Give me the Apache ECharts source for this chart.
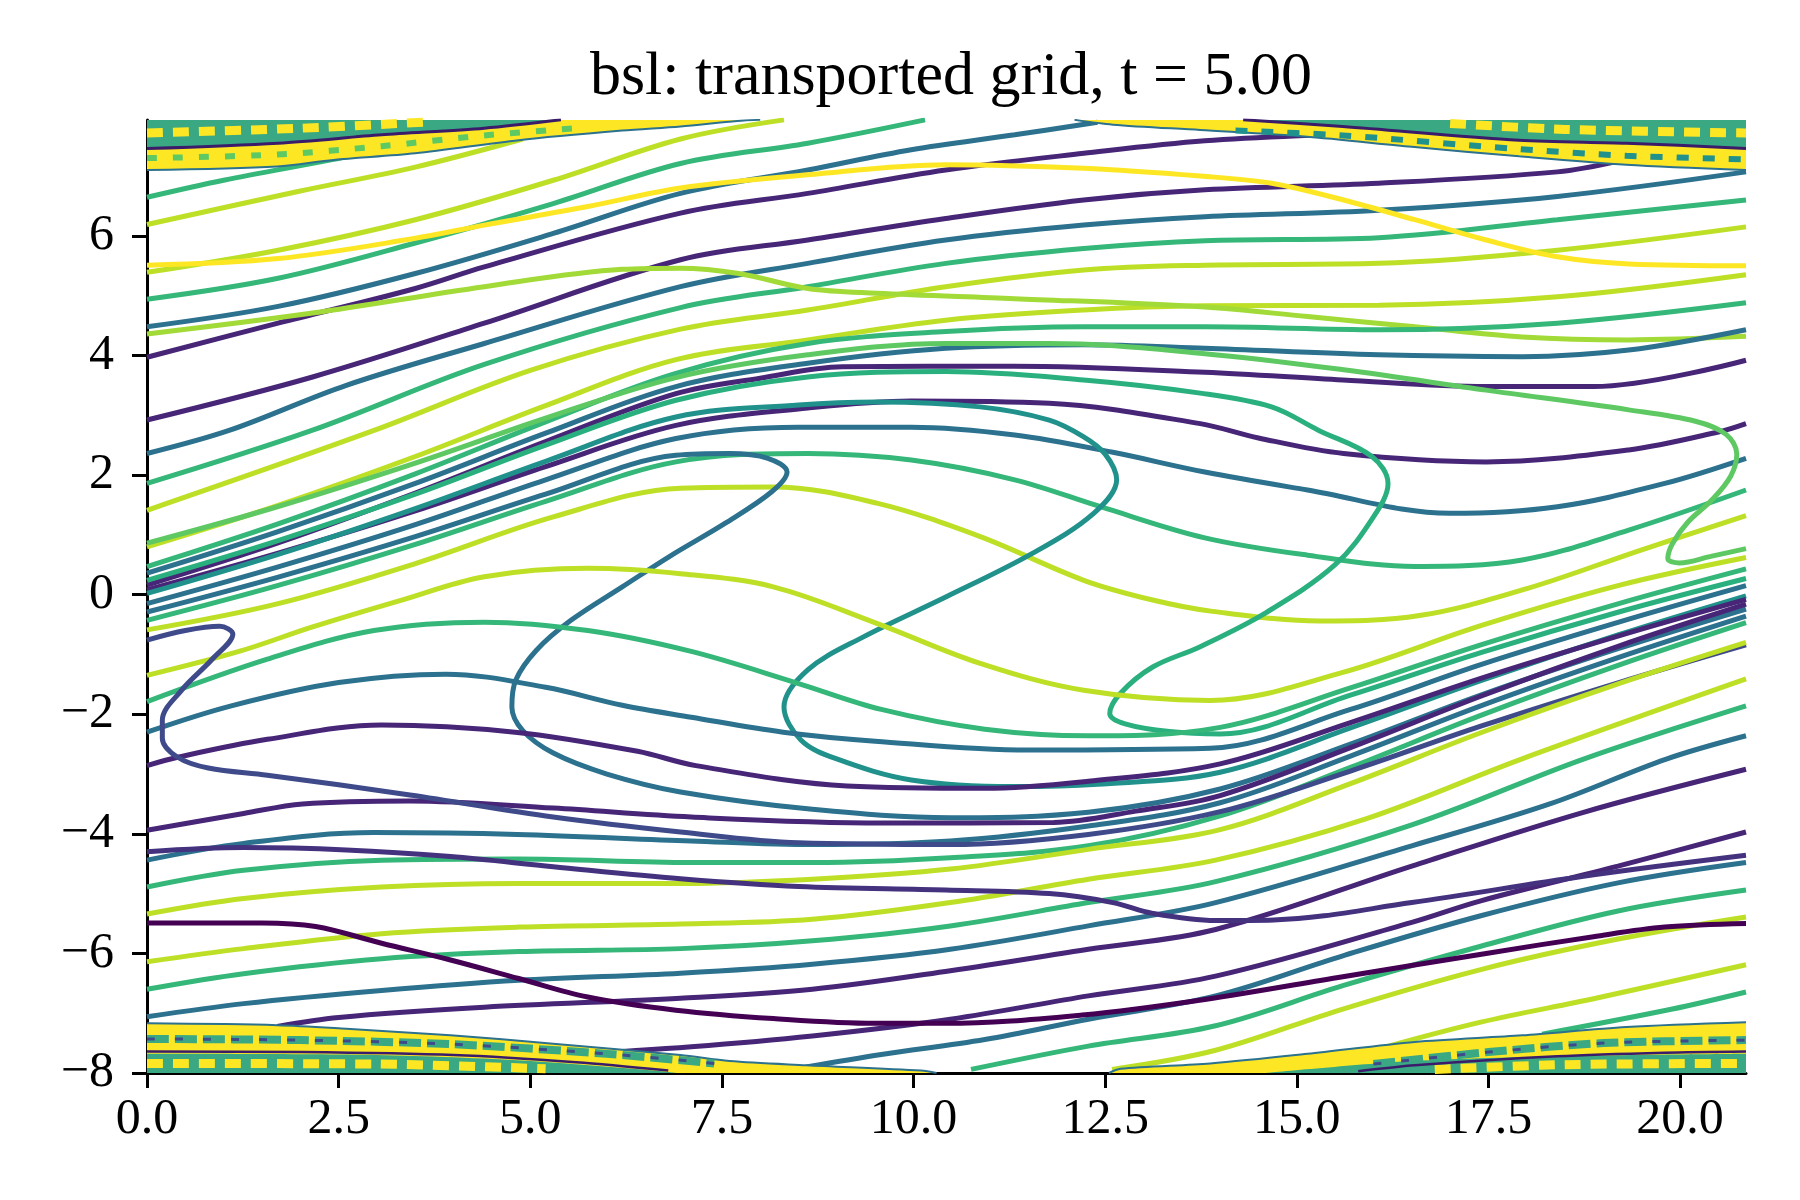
<!DOCTYPE html>
<html>
<head>
<meta charset="utf-8">
<script src="https://cdn.jsdelivr.net/npm/echarts@6/dist/echarts.min.js"></script>
<style>
  html, body { margin: 0; padding: 0; background: #fff; }
  #chart { width: 1800px; height: 1200px; }
</style>
</head>
<body>
<div id="chart"></div>
<script>
// axis ticks
var xTicks = [0, 2.5, 5, 7.5, 10, 12.5, 15, 17.5, 20];
var yTicks = [-8, -6, -4, -2, 0, 2, 4, 6];

// ---- upper curves (x, v) ----
var greenTopA = [[0,6.645],[1,6.93],[2.4,7.27],[2.8,7.38]];
var ygTopA = [[0,6.19],[2,6.75],[3.5,7.15],[4.9,7.62]];
var yellowTop = [[0,5.51],[1.71,5.62],[3.5,5.96],[4.4,6.18],[5.75,6.49],[6.96,6.8],[8.62,7.02],[10.42,7.19],[12.22,7.13],[13.74,7.0],[14.67,6.88],[15.61,6.6],[16.54,6.27],[17.47,5.93],[18.4,5.65],[19.33,5.53],[20.86,5.5]];
var ygTopB = [[0,5.39],[1.71,5.76],[3.5,6.27],[5.3,6.93],[6.96,7.62],[8.31,7.94]];
var greenTopB = [[0,4.94],[1.71,5.29],[3.5,5.88],[5.3,6.54],[6.96,7.21],[8.62,7.55],[10.15,7.94]];
var blueTopB = [[0,4.48],[1.71,4.82],[3.5,5.37],[5.3,6.04],[6.96,6.71],[8.62,7.1],[9.97,7.44],[11.32,7.69],[12.4,7.9]];
var limeTop = [[0,4.36],[2.16,4.71],[4.4,5.15],[6.2,5.44],[6.96,5.46],[7.72,5.37],[8.62,5.12],[9.52,5.04],[11.32,4.95],[13.8,4.81],[15.14,4.65],[16.54,4.48],[17.94,4.31],[19.33,4.26],[20.86,4.32]];
var purpleTopA = [[0,3.97],[1.71,4.54],[3.5,5.12],[4.4,5.48],[6.96,6.38],[8.62,6.71],[10.42,7.1],[12.22,7.38],[13.8,7.59],[15.5,7.7],[16.5,7.75]];
var purpleTopB = [[0,2.92],[2.16,3.64],[4.4,4.54],[6.96,5.6],[8.62,5.93],[10.42,6.29],[12.22,6.6],[13.8,6.77],[16.07,6.88],[18.4,7.07],[19.2,7.25]];
var blueTopC = [[0,2.36],[1.08,2.75],[2.6,3.5],[4.4,4.2],[6.96,5.15],[8.62,5.54],[10.42,5.93],[12.22,6.18],[13.8,6.32],[16.07,6.43],[18.4,6.66],[20.86,7.07]];
var greenTopC = [[0,1.86],[2.16,2.75],[4.4,3.85],[6.96,4.8],[8.62,5.15],[10.42,5.54],[12.22,5.79],[13.8,5.92],[16.07,5.97],[18.4,6.27],[20.86,6.6]];
var ygTopC = [[0,1.41],[2.97,2.75],[5,3.75],[6.96,4.44],[8.62,4.76],[10.42,5.15],[12.22,5.43],[13.8,5.51],[16.07,5.54],[18.4,5.76],[20.86,6.15]];
var ygTopD = [[0,0.8],[1.7,1.49],[3.5,2.31],[5.2,3.16],[6.9,3.93],[8.62,4.26],[10.42,4.59],[12.22,4.76],[13.8,4.83],[16.07,4.84],[18.4,4.98],[20.86,5.35]];

// ---- middle band curves ----
var limeLoop = [[0,0.86],[1.7,1.47],[3.5,2.2],[5.2,2.95],[6.9,3.63],[8.62,4.01],[10.42,4.2],[11.77,4.2],[13.8,4.03],[15.61,3.76],[17.47,3.42],[19.33,3.09],[20.2,2.9],[20.6,2.68],[20.74,2.35],[20.66,1.98],[20.42,1.59],[20.1,1.21],[19.9,0.85],[19.84,0.6],[19.99,0.53],[20.4,0.64],[20.86,0.77]];
var greenMidA = [[0,0.47],[1.7,1.18],[3.5,2.02],[5.2,2.89],[6.9,3.7],[8.62,4.2],[10.42,4.4],[12.22,4.48],[13.8,4.48],[16.07,4.43],[18.4,4.54],[20.86,4.88]];
var blueMidA = [[0,0.36],[1.7,1.05],[3.5,1.86],[5.2,2.7],[6.9,3.48],[8.62,3.87],[10.42,4.12],[12.22,4.18],[13.8,4.12],[16.07,4.01],[17.94,3.98],[19.33,4.09],[20.86,4.43]];
var greenS = [[0,0.24],[1.7,0.9],[3.5,1.68],[5.2,2.5],[6.9,3.25],[8.62,3.64],[10.42,3.73],[12.22,3.59],[13.74,3.37],[14.67,3.14],[15.28,2.75],[15.98,2.31],[16.19,1.86],[16.0,1.3],[15.5,0.5],[14.6,-0.3],[13.74,-0.87],[13.12,-1.21],[12.7,-1.65],[12.56,-1.99],[12.76,-2.16],[13.34,-2.29],[14.0,-2.33],[15.7,-1.68],[17.4,-0.97],[19.2,-0.29],[20.86,0.27]];
var purpleMidA = [[0,0.16],[1.7,0.86],[3.5,1.7],[5.2,2.56],[6.9,3.36],[8.0,3.62],[9.07,3.81],[11.3,3.82],[13.8,3.72],[15.6,3.59],[17.47,3.48],[18.87,3.48],[20.86,3.92]];
var purpleMidB = [[0,0.08],[1.7,0.69],[3.5,1.4],[5.2,2.14],[6.9,2.83],[8.62,3.12],[9.97,3.24],[11.77,3.2],[13.74,2.86],[14.5,2.62],[15.61,2.36],[17.47,2.22],[19.33,2.42],[20.5,2.72],[20.86,2.86]];
var tealS = [[0,0.02],[1.7,0.67],[3.5,1.44],[5.2,2.23],[6.9,2.97],[8.5,3.17],[9.52,3.22],[10.87,3.14],[11.77,2.92],[12.22,2.64],[12.5,2.35],[12.65,1.92],[12.35,1.36],[11.55,0.69],[10.42,-0.04],[9.34,-0.71],[8.62,-1.26],[8.31,-1.88],[8.53,-2.43],[8.98,-2.74],[9.97,-3.1],[11.32,-3.21],[12.4,-3.17],[14.0,-2.97],[15.7,-2.23],[17.4,-1.44],[19.2,-0.67],[20.86,-0.02]];
var blueMidB = [[0,-0.15],[1.7,0.46],[3.5,1.17],[5.2,1.92],[6.9,2.61],[8.5,2.8],[9.97,2.8],[11.32,2.67],[12.6,2.38],[13.8,2.05],[15.14,1.75],[17.0,1.36],[18.4,1.47],[19.8,1.86],[20.86,2.28]];
var blueS = [[0,-0.29],[1.7,0.29],[3.5,0.97],[5.2,1.68],[6.9,2.33],[7.6,2.36],[8.1,2.28],[8.35,2.05],[8.15,1.72],[7.55,1.2],[6.83,0.65],[6.2,0.13],[5.53,-0.43],[5.08,-0.93],[4.81,-1.43],[4.76,-1.88],[4.9,-2.27],[5.3,-2.65],[6.0,-3.0],[6.96,-3.3],[8.68,-3.59],[10.48,-3.73],[12.28,-3.64],[14.0,-3.25],[15.7,-2.5],[17.4,-1.68],[19.2,-0.9],[20.86,-0.24]];
var greenMidB = [[0,-0.43],[1.7,0.15],[3.5,0.84],[5.2,1.56],[6.9,2.22],[8.62,2.36],[9.97,2.25],[11.32,1.92],[12.44,1.47],[13.8,0.95],[15.14,0.66],[16.54,0.47],[17.94,0.58],[19.33,1.08],[20.86,1.75]];
var ygWiggle = [[0,-0.59],[1.71,-0.15],[3.5,0.52],[5.3,1.3],[6.96,1.78],[8.17,1.8],[9.52,1.53],[10.87,0.97],[12.22,0.24],[13.12,-0.09],[13.9,-0.28],[15.3,-0.44],[16.6,-0.35],[18.0,0.1],[19.5,0.75],[20.86,1.32]];

// ---- lower curves ----
var ygLowA = [[0,-1.35],[1.2,-0.95],[2.16,-0.54],[3.3,-0.1],[4.4,0.3],[5.75,0.44],[6.96,0.35],[8.17,0.13],[9.52,-0.48],[10.87,-1.15],[12.22,-1.6],[13.87,-1.77],[15.6,-1.3],[17.4,-0.52],[19.19,0.15],[20.86,0.62]];
var greenLowA = [[0,-1.79],[1.57,-1.08],[2.96,-0.6],[4.4,-0.46],[5.75,-0.6],[7.1,-0.95],[8.46,-1.47],[9.58,-1.92],[10.93,-2.25],[12.28,-2.36],[14.0,-2.22],[15.7,-1.56],[17.4,-0.84],[19.2,-0.15],[20.86,0.43]];
var blueLowA = [[0,-2.3],[1.1,-1.86],[2.5,-1.47],[3.9,-1.33],[5.2,-1.55],[6.2,-1.85],[7.1,-2.05],[8.3,-2.3],[9.5,-2.45],[11.5,-2.6],[13.87,-2.57],[15.7,-1.92],[17.4,-1.17],[19.2,-0.46],[20.86,0.15]];
var purpleLowA = [[0,-2.86],[0.4,-2.72],[1.57,-2.42],[3.06,-2.18],[4.8,-2.3],[6.4,-2.62],[7.16,-2.86],[9.13,-3.2],[10.93,-3.24],[12.28,-3.12],[14.0,-2.83],[15.7,-2.14],[17.4,-1.4],[19.2,-0.69],[20.86,-0.08]];
var purpleLowB = [[0,-3.94],[1.26,-3.66],[2.03,-3.5],[3.43,-3.45],[5.3,-3.57],[7.1,-3.72],[9.6,-3.82],[11.83,-3.81],[12.9,-3.62],[14.0,-3.36],[15.7,-2.56],[17.4,-1.7],[19.2,-0.86],[20.86,-0.16]];
var blueLowB = [[0,-4.44],[1.26,-4.16],[2.96,-3.98],[4.83,-4.01],[7.1,-4.12],[8.68,-4.18],[10.48,-4.12],[12.28,-3.87],[14.0,-3.48],[15.7,-2.7],[17.4,-1.86],[19.2,-1.05],[20.86,-0.36]];
var greenLowB = [[0,-4.89],[1.26,-4.61],[3.06,-4.44],[4.83,-4.42],[7.1,-4.48],[8.68,-4.48],[10.48,-4.4],[12.28,-4.2],[14.0,-3.7],[15.7,-2.89],[17.4,-2.02],[19.2,-1.18],[20.86,-0.47]];
var bpLoop = [[0,-0.76],[0.5,-0.6],[0.95,-0.53],[1.12,-0.66],[0.85,-1.08],[0.45,-1.6],[0.2,-2.1],[0.2,-2.4],[0.4,-2.72],[0.8,-2.9],[1.57,-3.02],[3.43,-3.35],[5.3,-3.72],[6.96,-3.97],[8.5,-4.15],[10.48,-4.18],[12.28,-4.01],[14.0,-3.63],[15.7,-2.95],[17.4,-2.2],[19.2,-1.47],[20.86,-0.84]];
var ygLowB = [[0,-5.34],[1.26,-5.08],[3.06,-4.89],[4.85,-4.83],[6.96,-4.83],[8.68,-4.76],[10.48,-4.59],[12.28,-4.26],[14.0,-3.93],[15.7,-3.16],[17.4,-2.31],[19.2,-1.49],[20.86,-0.8]];
var ygLowC = [[0,-6.14],[1.26,-5.92],[3.06,-5.67],[4.85,-5.56],[6.96,-5.51],[8.68,-5.43],[10.48,-5.15],[12.28,-4.76],[13.94,-4.44],[15.9,-3.75],[17.93,-2.75],[20.86,-1.41]];
var greenLowC = [[0,-6.6],[1.26,-6.34],[3.06,-6.09],[4.85,-5.97],[6.96,-5.92],[8.68,-5.79],[10.48,-5.54],[12.28,-5.15],[13.94,-4.8],[16.5,-3.85],[18.74,-2.75],[20.86,-1.86]];
var blueLowC = [[0,-7.06],[1.26,-6.84],[3.06,-6.62],[4.85,-6.45],[6.96,-6.33],[8.68,-6.18],[10.48,-5.93],[12.28,-5.54],[13.94,-5.15],[16.5,-4.2],[18.3,-3.5],[19.82,-2.75],[20.86,-2.36]];
var purpleLowC = [[1.7,-7.22],[2.5,-7.07],[4.4,-6.9],[6.96,-6.75],[8.68,-6.6],[10.48,-6.29],[12.28,-5.93],[13.94,-5.6],[16.5,-4.54],[18.74,-3.64],[20.86,-2.92]];
var purpleLowD = [[5.4,-7.7],[7.1,-7.56],[8.68,-7.38],[10.48,-7.1],[12.28,-6.71],[13.94,-6.38],[16.5,-5.48],[17.4,-5.12],[19.19,-4.54],[20.86,-3.97]];
var purple2Low = [[0,-4.3],[1.26,-4.23],[2.6,-4.27],[3.96,-4.38],[5.3,-4.55],[6.96,-4.75],[8.5,-4.88],[10.42,-4.94],[11.77,-5.0],[12.6,-5.15],[13.12,-5.33],[13.94,-5.45],[14.7,-5.44],[16.5,-5.15],[18.74,-4.71],[20.86,-4.36]];
var blueLowD = [[8.6,-7.9],[9.58,-7.69],[10.93,-7.44],[12.28,-7.1],[13.94,-6.71],[15.6,-6.04],[17.4,-5.37],[19.19,-4.82],[20.86,-4.48]];
var greenLowD = [[10.75,-7.94],[12.28,-7.55],[13.94,-7.21],[15.6,-6.54],[17.4,-5.88],[19.19,-5.29],[20.86,-4.94]];
var ygLowD = [[12.59,-7.94],[13.94,-7.62],[15.6,-6.93],[17.4,-6.27],[19.19,-5.76],[20.86,-5.39]];
var ygLowE = [[16.0,-7.62],[17.4,-7.15],[18.9,-6.75],[20.86,-6.19]];
var greenLowE = [[18.2,-7.35],[19.9,-6.93],[20.86,-6.645]];
var darkLow = [[0,-5.49],[1.5,-5.49],[2.2,-5.55],[3.06,-5.83],[3.96,-6.11],[4.85,-6.42],[5.75,-6.73],[6.9,-6.95],[8.17,-7.09],[9.5,-7.17],[10.4,-7.17],[12.2,-7.03],[13.8,-6.77],[15.6,-6.39],[17.47,-6.0],[18.87,-5.72],[19.8,-5.56],[20.86,-5.5]];

// ---- fine-structure bands near v = +-8 ----
var bandTLEdge = [[0,7.1],[1.7,7.16],[2.43,7.27],[3.5,7.38],[4.85,7.6],[6.2,7.76],[6.96,7.83],[7.7,7.92],[8.0,7.94]];
var bandTLDark = [[0,7.46],[1.71,7.55],[3.06,7.69],[4.4,7.8],[5.4,7.94]];
var bandTLMid = [[0,7.3],[1.7,7.36],[3.06,7.5],[4.4,7.68],[5.6,7.8]];
var bandTLTop = [[0,7.72],[2,7.8],[3.6,7.9]];
var bandTREdge = [[12.1,7.94],[12.6,7.86],[13.74,7.77],[15.1,7.66],[16.5,7.49],[17.9,7.33],[19.3,7.19],[20.86,7.1]];
var bandTRDark = [[14.3,7.94],[15.6,7.83],[17.9,7.6],[19.3,7.55],[20.86,7.46]];
var bandTRMid = [[14.2,7.76],[15.6,7.68],[17.9,7.45],[19.3,7.34],[20.86,7.28]];
var bandTRTop = [[17,7.88],[18.5,7.78],[20.86,7.72]];
var bandBLEdge = [[0,-7.17],[1.7,-7.2],[2.6,-7.26],[3.96,-7.37],[5.3,-7.51],[6.96,-7.7],[7.6,-7.8],[8.6,-7.87],[10.1,-7.96],[10.3,-8]];
var bandBLStrip = [[0,-7.43],[2,-7.45],[4,-7.52],[6,-7.68],[7.4,-7.84]];
var bandBLDark = [[0,-7.64],[2,-7.65],[4,-7.7],[5.6,-7.82],[6.8,-7.96]];
var bandBLMott = [[0,-7.68],[3,-7.7],[5,-7.8],[6.6,-7.96],[6.9,-8]];
var bandBLLow = [[0,-7.84],[3,-7.85],[5.2,-7.93]];
var bandBREdge = [[12.55,-8],[12.7,-7.93],[13.87,-7.84],[15.14,-7.68],[16.54,-7.48],[17.94,-7.37],[19.3,-7.23],[20.86,-7.15]];
var bandBRStrip = [[16,-7.85],[17.5,-7.65],[19,-7.5],[20.86,-7.45]];
var bandBRDark = [[15.8,-7.97],[16.54,-7.87],[18.4,-7.72],[19.8,-7.66],[20.86,-7.64]];
var bandBRMott = [[14.6,-8],[16.5,-7.8],[18.5,-7.72],[20.86,-7.68]];
var bandBRLow = [[16.8,-7.94],[18.5,-7.86],[20.86,-7.84]];

// colours (viridis)
var YELLOW = '#fde725', YG = '#bddf26', LIME = '#a2da37', LIME2 = '#5ec962',
    GREEN = '#35b779', GREENS = '#2ab07f', TEAL = '#21918c', BLUE = '#2c718e',
    BP = '#3e4a89', PURPLE = '#472677', PURPLE2 = '#45327f', DARK = '#440154',
    MOTTLE = '#3aa983';

var curves = [
  [greenTopA, GREEN], [ygTopA, YG], [ygTopB, YG], [greenTopB, GREEN], [blueTopB, BLUE],
  [purpleTopA, PURPLE], [purpleTopB, PURPLE], [blueTopC, BLUE], [greenTopC, GREEN],
  [ygTopC, YG], [ygTopD, YG], [limeTop, LIME],
  [greenMidA, GREEN], [blueMidA, BLUE], [purpleMidA, PURPLE], [purpleMidB, PURPLE],
  [blueMidB, BLUE], [greenMidB, GREEN], [ygWiggle, YG], [greenS, GREENS], [tealS, TEAL],
  [blueS, BLUE], [limeLoop, LIME2],
  [ygLowA, YG], [greenLowA, GREEN], [blueLowA, BLUE], [purpleLowA, PURPLE], [purpleLowB, PURPLE],
  [blueLowB, BLUE], [greenLowB, GREEN], [bpLoop, BP], [ygLowB, YG], [ygLowC, YG],
  [greenLowC, GREEN], [blueLowC, BLUE], [purpleLowC, PURPLE], [purpleLowD, PURPLE],
  [purple2Low, PURPLE2], [blueLowD, BLUE], [greenLowD, GREEN], [ygLowD, YG], [ygLowE, YG],
  [greenLowE, GREEN], [darkLow, DARK], [yellowTop, YELLOW]
];

var series = curves.map(function (c) {
  return {
    type: 'line', data: c[0], showSymbol: false, smooth: 0.35, z: 2,
    lineStyle: { color: c[1], width: 5 }, silent: true
  };
});

function area(data, origin, color, edgeColor) {
  return {
    type: 'line', data: data, showSymbol: false, smooth: 0.3, z: 5, silent: true,
    lineStyle: { color: edgeColor || color, width: edgeColor ? 2 : 0 },
    areaStyle: { color: color, opacity: 1, origin: origin }
  };
}
function stroke(data, color, width, type) {
  return {
    type: 'line', data: data, showSymbol: false, smooth: 0.3, z: 6, silent: true,
    lineStyle: { color: color, width: width, type: type || 'solid' }
  };
}

series.push(
  area(bandTLEdge, 'end', YELLOW, BLUE),
  stroke(bandTLMid, LIME2, 6, [10, 16]),
  area(bandTLDark, 'end', MOTTLE),
  stroke(bandTLTop, YELLOW, 9, [16, 10]),
  stroke(bandTLDark, '#3b1c6b', 3, 'solid'),
  area(bandTREdge, 'end', YELLOW, BLUE),
  stroke(bandTRMid, TEAL, 6, [12, 14]),
  area(bandTRDark, 'end', MOTTLE),
  stroke(bandTRTop, YELLOW, 9, [16, 10]),
  stroke(bandTRDark, '#3b1c6b', 3, 'solid'),
  area(bandBLEdge, 'start', YELLOW, BLUE),
  stroke(bandBLStrip, MOTTLE, 8, [22, 6]),
  stroke(bandBLStrip, BP, 3, [8, 20]),
  area(bandBLMott, 'start', MOTTLE),
  stroke(bandBLLow, YELLOW, 9, [16, 10]),
  stroke(bandBLDark, '#3b1c6b', 2.5, 'solid'),
  area(bandBREdge, 'start', YELLOW, BLUE),
  stroke(bandBRStrip, MOTTLE, 8, [22, 6]),
  stroke(bandBRStrip, BP, 3, [8, 20]),
  area(bandBRMott, 'start', MOTTLE),
  stroke(bandBRLow, YELLOW, 9, [16, 10]),
  stroke(bandBRDark, '#3b1c6b', 2.5, 'solid')
);

var FONT = '"Liberation Serif", "DejaVu Serif", serif';
function minus(v) { return v < 0 ? '\u2212' + Math.abs(v) : String(v); }

var myChart = echarts.init(document.getElementById('chart'));
var option = {
  animation: false,
  backgroundColor: '#ffffff',
  title: {
    text: 'bsl: transported grid, t = 5.00',
    left: 946, top: 42, textAlign: 'center',
    textStyle: { fontFamily: FONT, fontSize: 62, fontWeight: 'normal', color: '#000' }
  },
  grid: { left: 147, top: 120, width: 1599, height: 953 },
  xAxis: {
    type: 'value', min: 0, max: 20.86,
    axisLine: { show: true, onZero: false, lineStyle: { color: '#000', width: 3 } },
    axisTick: { show: true, length: 15, lineStyle: { color: '#000', width: 3 }, customValues: xTicks },
    axisLabel: { customValues: xTicks, margin: 22, fontFamily: FONT, fontSize: 50, color: '#000',
      formatter: function (v) { return v.toFixed(1); } },
    splitLine: { show: false }
  },
  yAxis: {
    type: 'value', min: -8, max: 7.9375,
    axisLine: { show: true, onZero: false, lineStyle: { color: '#000', width: 3 } },
    axisTick: { show: true, length: 15, lineStyle: { color: '#000', width: 3 }, customValues: yTicks },
    axisLabel: { customValues: yTicks, margin: 33, fontFamily: FONT, fontSize: 50, color: '#000',
      formatter: minus },
    splitLine: { show: false }
  },
  series: series
};
option && myChart.setOption(option);
</script>
</body>
</html>
